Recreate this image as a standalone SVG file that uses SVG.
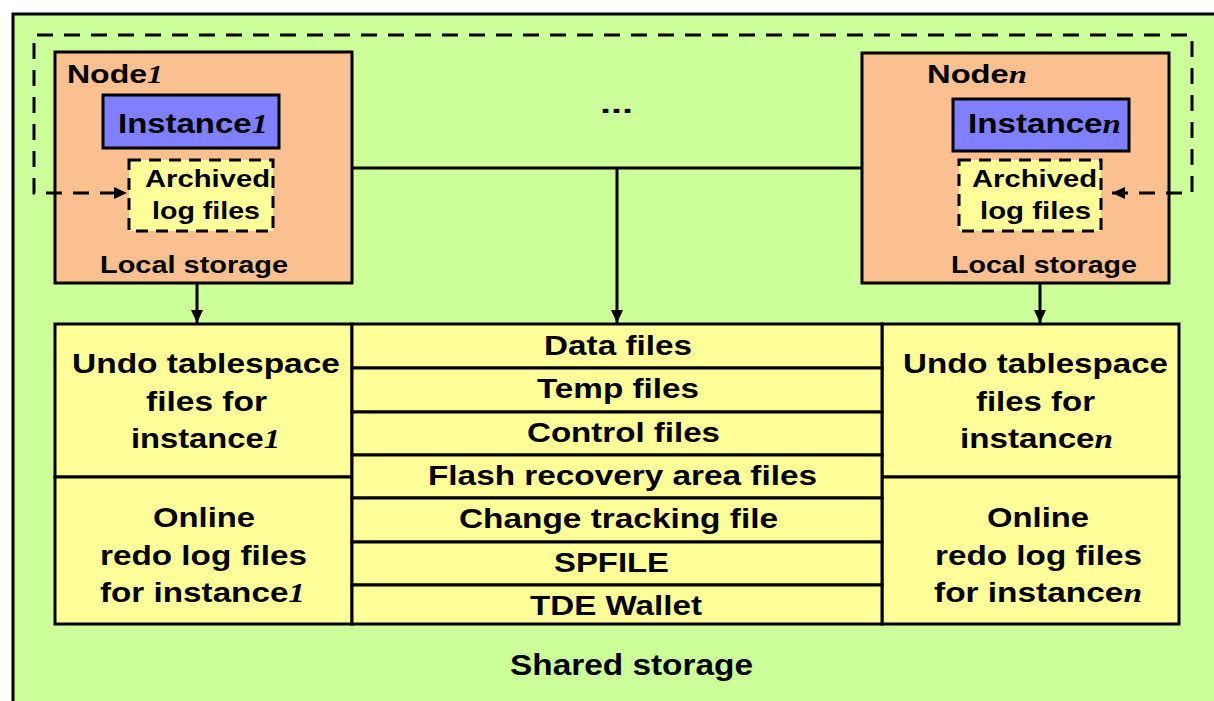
<svg xmlns="http://www.w3.org/2000/svg" width="1214" height="701" viewBox="0 0 1214 701">
<defs>
<style>
.t{font-family:"Liberation Sans",Arial,sans-serif;font-weight:bold;fill:#000;}
.s{font-family:"Liberation Serif","Times New Roman",serif;font-style:italic;font-weight:bold;}
.box{stroke:#000;stroke-width:3;}
.ln{stroke:#000;stroke-width:3;fill:none;}
.dash{stroke:#000;stroke-width:3;fill:none;stroke-dasharray:16 11;}
.dash2{stroke:#000;stroke-width:3;stroke-dasharray:12 8;}
</style>
<marker id="ah" markerUnits="userSpaceOnUse" markerWidth="14" markerHeight="12" refX="13" refY="6" orient="auto">
<path d="M0,0 L13,6 L0,12 z" fill="#000"/>
</marker>
</defs>
<rect x="0" y="0" width="1214" height="701" fill="#fff"/>
<g id="shared-storage">
<rect x="13" y="14" width="1215" height="700" fill="#CCFF99" class="box"/>
<text class="t" x="510" y="675" font-size="29" textLength="243" lengthAdjust="spacingAndGlyphs">Shared storage</text>
</g>
<g id="node1">
<rect x="55" y="52" width="297" height="231" fill="#FAC090" class="box"/>
<text class="t" x="67" y="83" font-size="25" textLength="96" lengthAdjust="spacingAndGlyphs">Node<tspan class="s">1</tspan></text>
<text class="t" x="100" y="273" font-size="24" textLength="188" lengthAdjust="spacingAndGlyphs">Local storage</text>
</g>
<g id="instance1">
<rect x="103" y="95" width="176" height="53" fill="#8080FF" class="box"/>
<text class="t" x="118" y="133" font-size="27" textLength="150" lengthAdjust="spacingAndGlyphs">Instance<tspan class="s">1</tspan></text>
</g>
<g id="archived1">
<rect x="129" y="160" width="144" height="71" fill="#FFFF99" class="dash2"/>
<text class="t" x="145" y="187" font-size="24" textLength="125" lengthAdjust="spacingAndGlyphs">Archived</text>
<text class="t" x="152" y="219" font-size="24" textLength="108" lengthAdjust="spacingAndGlyphs">log files</text>
</g>
<g id="noden">
<rect x="862" y="53" width="307" height="230" fill="#FAC090" class="box"/>
<text class="t" x="927" y="83" font-size="25" textLength="100" lengthAdjust="spacingAndGlyphs">Node<tspan class="s">n</tspan></text>
<text class="t" x="951" y="273" font-size="24" textLength="186" lengthAdjust="spacingAndGlyphs">Local storage</text>
</g>
<g id="instancen">
<rect x="953" y="99" width="176" height="52" fill="#8080FF" class="box"/>
<text class="t" x="968" y="133" font-size="27" textLength="153" lengthAdjust="spacingAndGlyphs">Instance<tspan class="s">n</tspan></text>
</g>
<g id="archivedn">
<rect x="959" y="160" width="142" height="71" fill="#FFFF99" class="dash2"/>
<text class="t" x="972" y="187" font-size="24" textLength="125" lengthAdjust="spacingAndGlyphs">Archived</text>
<text class="t" x="980" y="219" font-size="24" textLength="111" lengthAdjust="spacingAndGlyphs">log files</text>
</g>
<g id="ellipsis">
<text class="t" x="600" y="113" font-size="28" textLength="33" lengthAdjust="spacingAndGlyphs">...</text>
</g>
<g id="undo1">
<rect x="55" y="324" width="297" height="153" fill="#FFFF99" class="box"/>
<text class="t" x="72" y="373" font-size="28" textLength="268" lengthAdjust="spacingAndGlyphs">Undo tablespace</text>
<text class="t" x="146" y="411" font-size="28" textLength="121" lengthAdjust="spacingAndGlyphs">files for</text>
<text class="t" x="131" y="448" font-size="28" textLength="149" lengthAdjust="spacingAndGlyphs">instance<tspan class="s">1</tspan></text>
</g>
<g id="redo1">
<rect x="55" y="477" width="297" height="147" fill="#FFFF99" class="box"/>
<text class="t" x="153" y="527" font-size="28" textLength="102" lengthAdjust="spacingAndGlyphs">Online</text>
<text class="t" x="100" y="565" font-size="28" textLength="207" lengthAdjust="spacingAndGlyphs">redo log files</text>
<text class="t" x="100" y="602" font-size="28" textLength="205" lengthAdjust="spacingAndGlyphs">for instance<tspan class="s">1</tspan></text>
</g>
<g id="undon">
<rect x="882" y="324" width="297" height="153" fill="#FFFF99" class="box"/>
<text class="t" x="903" y="373" font-size="28" textLength="265" lengthAdjust="spacingAndGlyphs">Undo tablespace</text>
<text class="t" x="976" y="411" font-size="28" textLength="119" lengthAdjust="spacingAndGlyphs">files for</text>
<text class="t" x="960" y="448" font-size="28" textLength="153" lengthAdjust="spacingAndGlyphs">instance<tspan class="s">n</tspan></text>
</g>
<g id="redon">
<rect x="882" y="477" width="297" height="147" fill="#FFFF99" class="box"/>
<text class="t" x="987" y="527" font-size="28" textLength="102" lengthAdjust="spacingAndGlyphs">Online</text>
<text class="t" x="935" y="565" font-size="28" textLength="207" lengthAdjust="spacingAndGlyphs">redo log files</text>
<text class="t" x="934" y="602" font-size="28" textLength="208" lengthAdjust="spacingAndGlyphs">for instance<tspan class="s">n</tspan></text>
</g>
<g id="datafiles">
<rect x="352" y="324" width="530" height="44" fill="#FFFF99" class="box"/>
<text class="t" x="544" y="355" font-size="28" textLength="148" lengthAdjust="spacingAndGlyphs">Data files</text>
</g>
<g id="tempfiles">
<rect x="352" y="368" width="530" height="44" fill="#FFFF99" class="box"/>
<text class="t" x="537" y="398" font-size="28" textLength="162" lengthAdjust="spacingAndGlyphs">Temp files</text>
</g>
<g id="controlfiles">
<rect x="352" y="412" width="530" height="43" fill="#FFFF99" class="box"/>
<text class="t" x="527" y="442" font-size="28" textLength="193" lengthAdjust="spacingAndGlyphs">Control files</text>
</g>
<g id="flashfiles">
<rect x="352" y="455" width="530" height="43" fill="#FFFF99" class="box"/>
<text class="t" x="428" y="485" font-size="28" textLength="389" lengthAdjust="spacingAndGlyphs">Flash recovery area files</text>
</g>
<g id="changetracking">
<rect x="352" y="498" width="530" height="44" fill="#FFFF99" class="box"/>
<text class="t" x="459" y="528" font-size="28" textLength="319" lengthAdjust="spacingAndGlyphs">Change tracking file</text>
</g>
<g id="spfile">
<rect x="352" y="542" width="530" height="43" fill="#FFFF99" class="box"/>
<text class="t" x="554" y="572" font-size="28" textLength="115" lengthAdjust="spacingAndGlyphs">SPFILE</text>
</g>
<g id="tdewallet">
<rect x="352" y="585" width="530" height="39" fill="#FFFF99" class="box"/>
<text class="t" x="530" y="615" font-size="28" textLength="172" lengthAdjust="spacingAndGlyphs">TDE Wallet</text>
</g>
<g id="connectors">
<path class="ln" d="M352,168 H862"/>
<path class="ln" d="M617,168 V323" marker-end="url(#ah)"/>
<path class="ln" d="M197,283 V323" marker-end="url(#ah)"/>
<path class="ln" d="M1040,283 V323" marker-end="url(#ah)"/>
<path class="dash" d="M1112,193 H1192 V35 H34 V193 H127" marker-end="url(#ah)"/>
<path d="M1112,193 l13,-6 v12 z" fill="#000"/>
</g>
</svg>
